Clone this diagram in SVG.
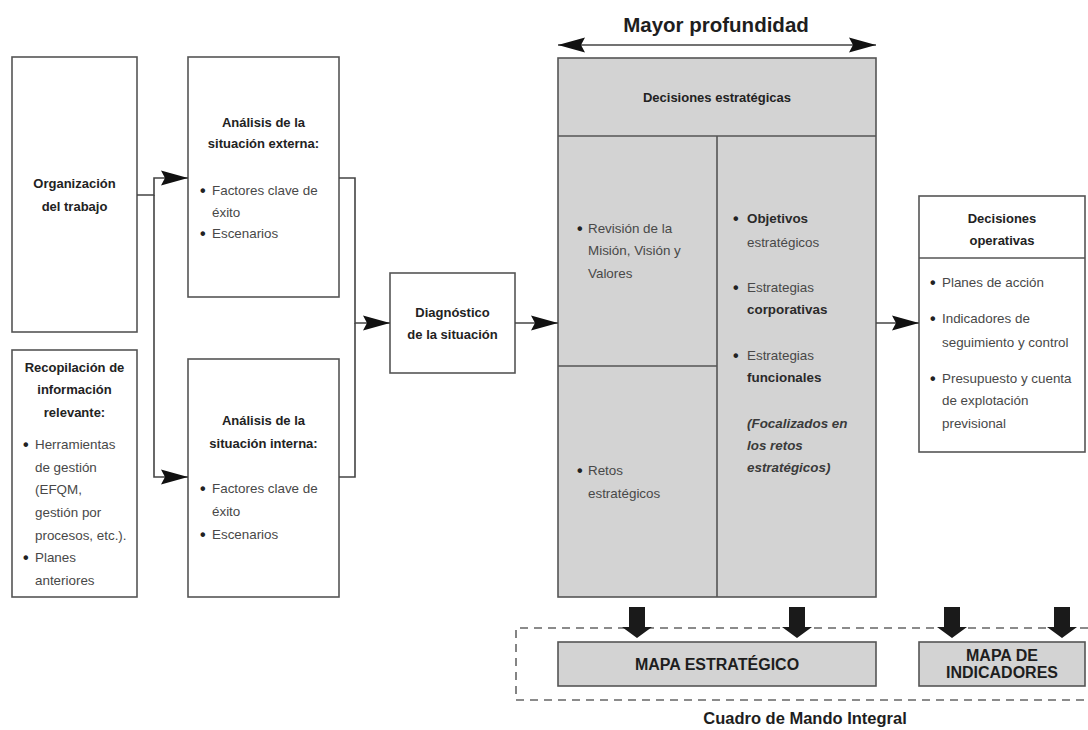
<svg xmlns="http://www.w3.org/2000/svg" width="1088" height="730" viewBox="0 0 1088 730">
<style>
.box{fill:#fff;stroke:#555;stroke-width:1.6}
.gbox{fill:#d3d3d3;stroke:#555;stroke-width:1.6}
.div{stroke:#555;stroke-width:1.6;fill:none}
.con{fill:none;stroke:#444;stroke-width:1.6}
.h{font-family:"Liberation Sans",Arial,sans-serif;font-weight:bold;font-size:13px;fill:#222;text-anchor:middle}
.t{font-family:"Liberation Sans",Arial,sans-serif;font-size:13.4px;fill:#484848}
.b{font-family:"Liberation Sans",Arial,sans-serif;font-size:16px;font-weight:bold;fill:#222}
.tb{font-family:"Liberation Sans",Arial,sans-serif;font-size:13.4px;font-weight:bold;fill:#2a2a2a}
.ti{font-family:"Liberation Sans",Arial,sans-serif;font-size:13.4px;font-weight:bold;font-style:italic;fill:#3a3a3a}
.big{font-family:"Liberation Sans",Arial,sans-serif;font-weight:bold;fill:#1e1e1e;text-anchor:middle}
.thick{fill:#1a1a1a}
</style>
<defs>
<marker id="ah" markerUnits="userSpaceOnUse" markerWidth="28" markerHeight="16" refX="27" refY="8" orient="auto-start-reverse">
<path d="M0,0.5 L27,8 L0,15.5 L4,8 Z" fill="#111"/>
</marker>
</defs>

<g id="organizacion">
<rect class="box" x="12" y="57" width="125" height="275"/>
<text class="h" x="74.5" y="188">Organización</text>
<text class="h" x="74.5" y="211">del trabajo</text>
</g>

<g id="recopilacion">
<rect class="box" x="12" y="350" width="125" height="247"/>
<text class="h" x="74.5" y="372">Recopilación de</text>
<text class="h" x="74.5" y="394">información</text>
<text class="h" x="74.5" y="417">relevante:</text>
<text class="b" x="23" y="450">•</text>
<text class="t" x="35" y="449">Herramientas</text>
<text class="t" x="35" y="472">de gestión</text>
<text class="t" x="35" y="494">(EFQM,</text>
<text class="t" x="35" y="517">gestión por</text>
<text class="t" x="35" y="540">procesos, etc.).</text>
<text class="b" x="23" y="563">•</text>
<text class="t" x="35" y="562">Planes</text>
<text class="t" x="35" y="585">anteriores</text>
</g>

<g id="analisis-externa">
<rect class="box" x="188" y="57" width="151" height="240"/>
<text class="h" x="263.5" y="127">Análisis de la</text>
<text class="h" x="263.5" y="148">situación externa:</text>
<text class="b" x="200" y="196">•</text>
<text class="t" x="212" y="195">Factores clave de</text>
<text class="t" x="212" y="217">éxito</text>
<text class="b" x="200" y="239">•</text>
<text class="t" x="212" y="238">Escenarios</text>
</g>

<g id="analisis-interna">
<rect class="box" x="188" y="359" width="151" height="238"/>
<text class="h" x="263.5" y="425">Análisis de la</text>
<text class="h" x="263.5" y="448">situación interna:</text>
<text class="b" x="200" y="494">•</text>
<text class="t" x="212" y="493">Factores clave de</text>
<text class="t" x="212" y="516">éxito</text>
<text class="b" x="200" y="540">•</text>
<text class="t" x="212" y="539">Escenarios</text>
</g>

<g id="diagnostico">
<rect class="box" x="390" y="273" width="125" height="100"/>
<text class="h" x="452.5" y="317">Diagnóstico</text>
<text class="h" x="452.5" y="339">de la situación</text>
</g>

<g id="mayor-profundidad">
<text class="big" x="716" y="32" font-size="20.5">Mayor profundidad</text>
</g>

<g id="decisiones-estrategicas">
<rect class="gbox" x="558" y="58" width="318" height="539"/>
<path class="div" d="M558,136 H876 M717,136 V597 M558,366 H717"/>
<text class="h" x="717" y="102">Decisiones estratégicas</text>
<text class="b" x="577" y="234">•</text>
<text class="t" x="588" y="233">Revisión de la</text>
<text class="t" x="588" y="255">Misión, Visión y</text>
<text class="t" x="588" y="278">Valores</text>
<text class="b" x="577" y="476">•</text>
<text class="t" x="588" y="475">Retos</text>
<text class="t" x="588" y="498">estratégicos</text>
<text class="b" x="733" y="224">•</text>
<text class="tb" x="747" y="223">Objetivos</text>
<text class="t" x="747" y="247">estratégicos</text>
<text class="b" x="733" y="293">•</text>
<text class="t" x="747" y="292">Estrategias</text>
<text class="tb" x="747" y="314">corporativas</text>
<text class="b" x="733" y="361">•</text>
<text class="t" x="747" y="360">Estrategias</text>
<text class="tb" x="747" y="382">funcionales</text>
<text class="ti" x="747" y="428">(Focalizados en</text>
<text class="ti" x="747" y="450">los retos</text>
<text class="ti" x="747" y="472">estratégicos)</text>
</g>

<g id="decisiones-operativas">
<rect class="box" x="919" y="196" width="166" height="256"/>
<path class="div" d="M919,258 H1085"/>
<text class="h" x="1002" y="223">Decisiones</text>
<text class="h" x="1002" y="245">operativas</text>
<text class="b" x="930" y="288">•</text>
<text class="t" x="942" y="287">Planes de acción</text>
<text class="b" x="930" y="324">•</text>
<text class="t" x="942" y="323">Indicadores de</text>
<text class="t" x="942" y="347">seguimiento y control</text>
<text class="b" x="930" y="384">•</text>
<text class="t" x="942" y="383">Presupuesto y cuenta</text>
<text class="t" x="942" y="405">de explotación</text>
<text class="t" x="942" y="428">previsional</text>
</g>

<g id="cuadro-mando-integral">
<path d="M1088,628 H516 V700 H1088" fill="none" stroke="#666" stroke-width="1.6" stroke-dasharray="8,6"/>
<text class="big" x="805" y="724" font-size="16.5">Cuadro de Mando Integral</text>
</g>

<g id="mapa-estrategico">
<rect class="gbox" x="558" y="642" width="318" height="44"/>
<text class="big" x="717" y="670" font-size="16">MAPA ESTRATÉGICO</text>
</g>

<g id="mapa-indicadores">
<rect class="gbox" x="919" y="642" width="166" height="44"/>
<text class="big" x="1002" y="661" font-size="16">MAPA DE</text>
<text class="big" x="1002" y="678" font-size="16">INDICADORES</text>
</g>

<g id="connectors">
<path class="con" d="M137,195 H154 V178 H188" marker-end="url(#ah)"/>
<path class="con" d="M154,195 V477 H188" marker-end="url(#ah)"/>
<path class="con" d="M339,178 H355 V323 H390" marker-end="url(#ah)"/>
<path class="con" d="M339,477 H355 V323"/>
<path class="con" d="M515,323 H558" marker-end="url(#ah)"/>
<path class="con" d="M876,323 H919" marker-end="url(#ah)"/>
<path class="con" d="M558,45 H876" stroke="#222" marker-start="url(#ah)" marker-end="url(#ah)"/>
<path class="thick" d="M629,607 H645 V627 H652 L637,638 L622,627 H629 Z"/>
<path class="thick" d="M789,607 H805 V627 H812 L797,638 L782,627 H789 Z"/>
<path class="thick" d="M944,607 H960 V627 H967 L952,638 L937,627 H944 Z"/>
<path class="thick" d="M1054,607 H1070 V627 H1077 L1062,638 L1047,627 H1054 Z"/>
</g>
</svg>
